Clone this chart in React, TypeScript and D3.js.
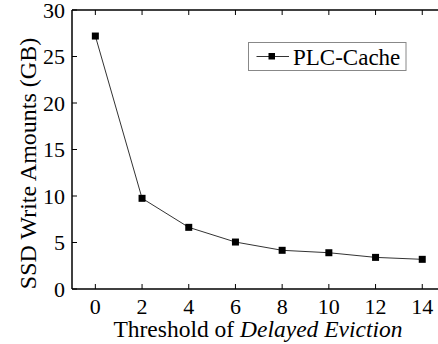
import React from "react";
import * as d3 from "d3";

const thresholds = [0, 2, 4, 6, 8, 10, 12, 14];
const writeAmounts = [27.2, 9.75, 6.63, 5.05, 4.16, 3.9, 3.4, 3.19];
const xTicks = [0, 2, 4, 6, 8, 10, 12, 14];
const yTicks = [0, 5, 10, 15, 20, 25, 30];
const seriesName = "PLC-Cache";

const W = 438;
const H = 344;
const left = 72;
const top = 10;
const bottom = 289;
const FF = "Liberation Serif";

export default function App() {
  const x = d3.scaleLinear().domain([-1, 15]).range([left, left + 16 * 23.35]);
  const y = d3.scaleLinear().domain([0, 30]).range([bottom, top]);
  const line = d3
    .line<number>()
    .x((_, i) => x(thresholds[i]))
    .y((d) => y(d));
  const right = x(15);
  return (
    <svg width={W} height={H} style={{ position: "fixed", left: 0, top: 0 }}>
      <style>{`text, tspan { font-family: "Liberation Serif", serif; }`}</style>
      <rect width={W} height={H} fill="#fff" />
      {/* frame */}
      <line x1={left} x2={left} y1={top} y2={bottom} stroke="#000" strokeWidth={1.5} />
      <line x1={left} x2={right} y1={bottom} y2={bottom} stroke="#000" strokeWidth={1.5} />
      <line x1={left} x2={right} y1={top} y2={top} stroke="#000" strokeWidth={1.5} />
      {/* x ticks */}
      {xTicks.map((t) => (
        <g key={"x" + t}>
          <line x1={x(t)} x2={x(t)} y1={bottom} y2={bottom - 5} stroke="#000" strokeWidth={1} />
          <line x1={x(t)} x2={x(t)} y1={top} y2={top + 5} stroke="#000" strokeWidth={1} />
          <text x={x(t)} y={314} textAnchor="middle" fontSize={22} fill="#000" fontFamily={FF}>
            {t}
          </text>
        </g>
      ))}
      {/* y ticks */}
      {yTicks.map((t) => (
        <g key={"y" + t}>
          <line x1={left} x2={left + 5} y1={y(t)} y2={y(t)} stroke="#000" strokeWidth={1} />
          <text x={65} y={y(t) + 7.5} textAnchor="end" fontSize={22} fill="#000" fontFamily={FF}>
            {t}
          </text>
        </g>
      ))}
      {/* axis labels */}
      <text
        transform={`translate(36, 163.5) rotate(-90)`}
        textAnchor="middle"
        fontSize={24}
        fill="#000"
        fontFamily={FF}
      >
        SSD Write Amounts (GB)
      </text>
      <text x={258} y={337} textAnchor="middle" fontSize={23.5} fill="#000" fontFamily={FF}>
        Threshold of <tspan fontStyle="italic">Delayed Eviction</tspan>
      </text>
      {/* series */}
      <path d={line(writeAmounts) || ""} fill="none" stroke="#333" strokeWidth={1} />
      {writeAmounts.map((v, i) => (
        <rect
          key={i}
          x={x(thresholds[i]) - 3.5}
          y={y(v) - 3.5}
          width={7}
          height={7}
          fill="#000"
        />
      ))}
      {/* legend */}
      <g>
        <rect x={248.5} y={42.5} width={157.5} height={28} fill="#fff" stroke="#888" strokeWidth={1} />
        <line x1={256.5} x2={289} y1={56.5} y2={56.5} stroke="#333" strokeWidth={1} />
        <rect x={268.5} y={53} width={6.5} height={6.5} fill="#000" />
        <text x={293} y={64.5} fontSize={23} fill="#000" fontFamily={FF}>
          {seriesName}
        </text>
      </g>
    </svg>
  );
}
